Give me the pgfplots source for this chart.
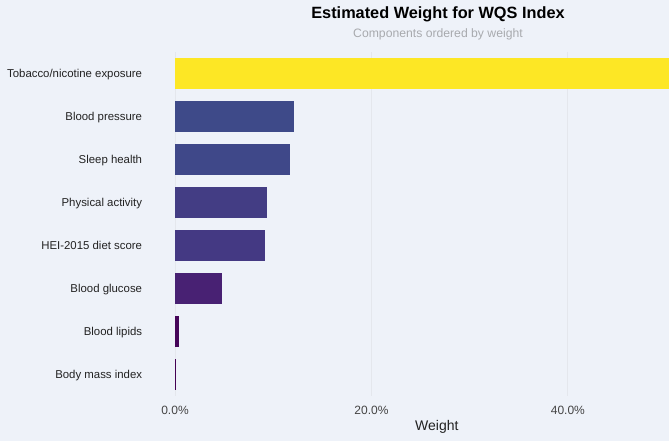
\documentclass[border=0pt]{standalone}
\usepackage{fontspec}
\setmainfont{Liberation Sans}
\usepackage{pgfplots}
\pgfplotsset{compat=1.18}
\definecolor{bg}{HTML}{EEF2F9}
\definecolor{gridc}{HTML}{E4E7ED}
\definecolor{subgray}{HTML}{A8AAAE}
\definecolor{tickc}{HTML}{444444}
\definecolor{txt}{HTML}{222222}
\definecolor{c0}{HTML}{FDE725}
\definecolor{c1}{HTML}{3E4A89}
\definecolor{c2}{HTML}{3F4889}
\definecolor{c3}{HTML}{433D84}
\definecolor{c4}{HTML}{443983}
\definecolor{c5}{HTML}{482173}
\definecolor{c6}{HTML}{450559}
\definecolor{c7}{HTML}{440154}
\begin{document}
\begin{tikzpicture}
\fill[bg] (0bp,0bp) rectangle (669bp,441bp);
\useasboundingbox (0bp,0bp) rectangle (669bp,441bp);
\node[anchor=base, inner sep=0pt, text=black, font=\fontsize{16.3bp}{19bp}\selectfont\bfseries] at (438bp,422bp) {Estimated Weight for WQS Index};
\node[anchor=base, inner sep=0pt, text=subgray, font=\fontsize{12.2bp}{14bp}\selectfont] at (438bp,403bp) {Components ordered by weight};
\begin{axis}[
  at={(175bp,45.5bp)}, anchor=south west,
  scale only axis, width=494bp, height=343.5bp,
  xmin=0, xmax=50.3, ymin=-0.5, ymax=7.5, y dir=reverse,
  xbar, bar width=0.7, bar shift=0pt,
  xtick={0,20,40}, xticklabels={0.0\%,20.0\%,40.0\%},
  ytick={0,1,2,3,4,5,6,7},
  yticklabels={Tobacco/nicotine exposure,Blood pressure,Sleep health,Physical activity,HEI-2015 diet score,Blood glucose,Blood lipids,Body mass index},
  xmajorgrids, grid style={color=gridc, line width=1bp},
  axis line style={draw=none}, major tick length=0pt,
  xticklabel style={anchor=base, inner sep=0pt, yshift=-18.5bp, text=tickc, font=\fontsize{12bp}{14bp}\selectfont},
  yticklabel style={anchor=base east, inner sep=0pt, xshift=-32.7bp, yshift=-4.3bp, text=txt, font=\fontsize{11.4bp}{13bp}\selectfont},
  xlabel={Weight},
  xlabel style={at={(axis description cs:0.530,0)}, anchor=base, inner sep=0pt, yshift=-34.5bp, text=txt, font=\fontsize{14bp}{16bp}\selectfont},
]
\addplot[fill=c0, draw=c0, line width=0.4bp] coordinates {(52.8,0)};
\addplot[fill=c1, draw=c1, line width=0.4bp] coordinates {(12.0,1)};
\addplot[fill=c2, draw=c2, line width=0.4bp] coordinates {(11.63,2)};
\addplot[fill=c3, draw=c3, line width=0.4bp] coordinates {(9.33,3)};
\addplot[fill=c4, draw=c4, line width=0.4bp] coordinates {(9.09,4)};
\addplot[fill=c5, draw=c5, line width=0.4bp] coordinates {(4.68,5)};
\addplot[fill=c6, draw=c6, line width=0.4bp] coordinates {(0.37,6)};
\addplot[fill=c7, draw=c7, line width=0.4bp] coordinates {(0.06,7)};
\end{axis}
\end{tikzpicture}
\end{document}
